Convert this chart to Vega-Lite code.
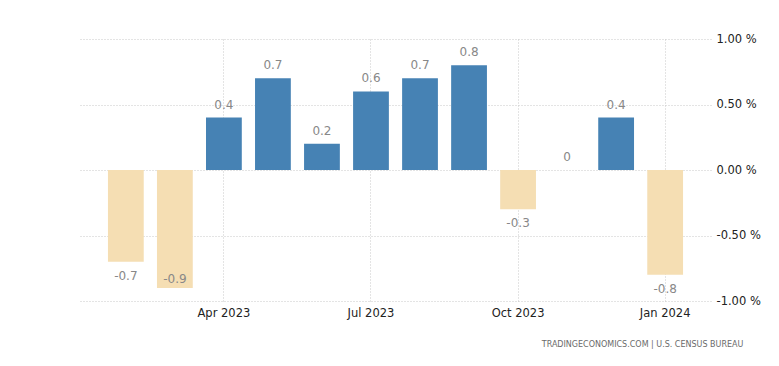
{
  "$schema": "https://vega.github.io/schema/vega-lite/v6.json",
  "autosize": "none",
  "width": 631,
  "height": 262,
  "padding": {"left": 80, "top": 39, "right": 68, "bottom": 65},
  "background": "white",
  "config": {
    "view": {"stroke": null},
    "font": "DejaVu Sans"
  },
  "title": {
    "text": "TRADINGECONOMICS.COM  |  U.S. CENSUS BUREAU",
    "orient": "bottom",
    "anchor": "end",
    "fontSize": 8,
    "fontWeight": "normal",
    "color": "#6a6a6a",
    "font": "DejaVu Sans",
    "offset": 22,
    "dx": -17
  },
  "data": {
    "values": [
      {"month": "Feb 2023", "value": -0.7},
      {"month": "Mar 2023", "value": -0.9},
      {"month": "Apr 2023", "value": 0.4},
      {"month": "May 2023", "value": 0.7},
      {"month": "Jun 2023", "value": 0.2},
      {"month": "Jul 2023", "value": 0.6},
      {"month": "Aug 2023", "value": 0.7},
      {"month": "Sep 2023", "value": 0.8},
      {"month": "Oct 2023", "value": -0.3},
      {"month": "Nov 2023", "value": 0},
      {"month": "Dec 2023", "value": 0.4},
      {"month": "Jan 2024", "value": -0.8}
    ]
  },
  "encoding": {
    "x": {
      "field": "month",
      "type": "ordinal",
      "sort": null,
      "scale": {"paddingInner": 0.27, "paddingOuter": 0.57},
      "axis": {
        "title": null,
        "values": ["Apr 2023", "Jul 2023", "Oct 2023", "Jan 2024"],
        "labelAngle": 0,
        "bandPosition": 0.5,
        "domain": false,
        "ticks": false,
        "grid": true,
        "gridColor": "#c8c8c8",
        "gridDash": [1, 2],
        "labelFontSize": 11.5,
        "labelColor": "#222222",
        "labelPadding": 6,
        "labelFont": "DejaVu Sans"
      }
    }
  },
  "layer": [
    {
      "mark": {"type": "bar"},
      "encoding": {
        "y": {
          "field": "value",
          "type": "quantitative",
          "scale": {"domain": [-1, 1], "nice": false, "zero": true},
          "axis": {
            "orient": "right",
            "title": null,
            "values": [-1, -0.5, 0, 0.5, 1],
            "labelExpr": "replace(format(datum.value, '.2f'), '\u2212', '-') + ' %'",
            "domain": false,
            "ticks": false,
            "grid": true,
            "gridColor": "#c8c8c8",
            "gridDash": [1, 2],
            "labelAlign": "left",
            "labelPadding": 5,
            "labelFontSize": 11.5,
            "labelColor": "#222222",
            "labelFont": "DejaVu Sans"
          }
        },
        "color": {
          "condition": {"test": "datum.value < 0", "value": "#F5DEB3"},
          "value": "#4682B4"
        }
      }
    },
    {
      "transform": [{"filter": "datum.value >= 0"}],
      "mark": {
        "type": "text",
        "fontSize": 12,
        "color": "#888888",
        "font": "DejaVu Sans",
        "baseline": "bottom",
        "dy": -6
      },
      "encoding": {
        "y": {"field": "value", "type": "quantitative"},
        "text": {"field": "value", "type": "nominal"}
      }
    },
    {
      "transform": [{"filter": "datum.value < 0 && datum.value > -0.85"}],
      "mark": {
        "type": "text",
        "fontSize": 12,
        "color": "#888888",
        "font": "DejaVu Sans",
        "baseline": "top",
        "dy": 9
      },
      "encoding": {
        "y": {"field": "value", "type": "quantitative"},
        "text": {"field": "value", "type": "nominal"}
      }
    },
    {
      "transform": [{"filter": "datum.value <= -0.85"}],
      "mark": {
        "type": "text",
        "fontSize": 12,
        "color": "#888888",
        "font": "DejaVu Sans",
        "baseline": "bottom",
        "dy": -2
      },
      "encoding": {
        "y": {"field": "value", "type": "quantitative"},
        "text": {"field": "value", "type": "nominal"}
      }
    }
  ]
}
